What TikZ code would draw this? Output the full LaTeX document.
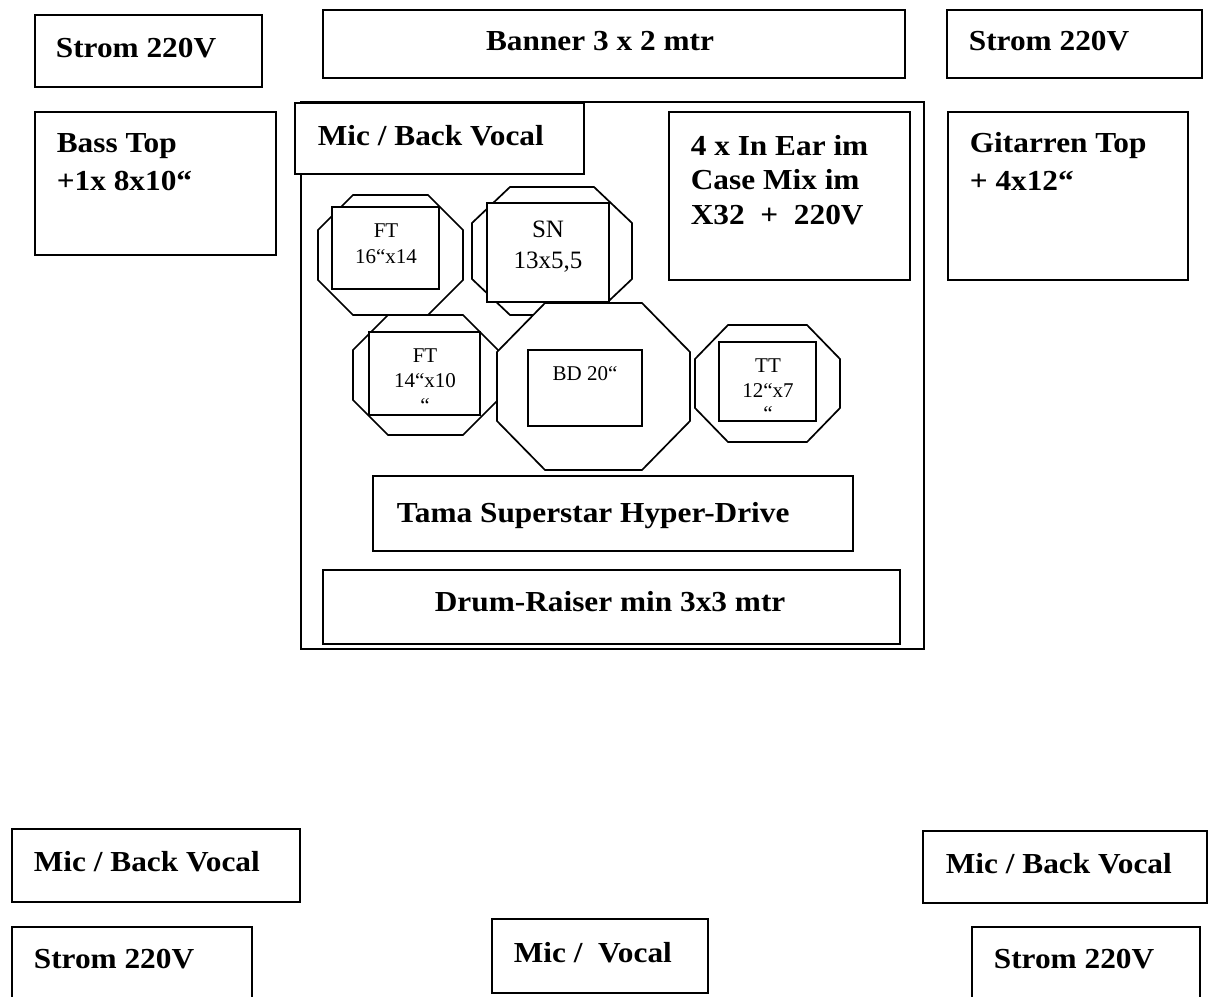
\documentclass[tikz,border=0pt]{standalone}
\usepackage{fontspec}
\setmainfont{Liberation Serif}
\newfontfamily\bigfont[FakeStretch=1.08]{Liberation Serif}
\begin{document}
\begin{tikzpicture}[x=1pt,y=-1pt,line width=1.7pt,line join=miter,
  box/.style={draw,fill=white,inner sep=0pt},
  big/.style={font=\bigfont\bfseries\fontsize{29}{36}\selectfont,inner sep=0pt,anchor=base west},
  bigc/.style={big,anchor=base},
  small/.style={font=\fontsize{21}{25}\selectfont,inner sep=0pt,anchor=base},
  mid/.style={font=\fontsize{25}{30}\selectfont,inner sep=0pt,anchor=base},
  drum/.style={draw,fill=white}]
\useasboundingbox (0,0) rectangle (1209,996);
\clip (0,0) rectangle (1209,996);
% helper for boxes from corners
\def\bx#1#2#3#4#5{\node[box,minimum width={(#4)-(#2)},minimum height={(#5)-(#3)}] (#1) at ({((#2)+(#4))/2},{((#3)+(#5))/2}) {};}
\def\oct#1#2#3#4#5#6#7{\draw[drum] ({#2+#6},#3) coordinate (#1) -- ({#4-#6},#3) -- (#4,{#3+#7}) -- (#4,{#5-#7}) -- ({#4-#6},#5) -- ({#2+#6},#5) -- (#2,{#5-#7}) -- (#2,{#3+#7}) -- cycle;}
% top row
\bx{stromTL}{35}{15}{262}{87}
\node[big] (tStromTL) at (55,57) {Strom 220V};
\bx{banner}{323}{10}{905}{78}
\node[bigc] (tBanner) at (600,50) {Banner 3 x 2 mtr};
\bx{stromTR}{947}{10}{1202}{78}
\node[big] (tStromTR) at (968,50) {Strom 220V};
% side boxes
\bx{bass}{35}{112}{276}{255}
\node[big] (tBass1) at (56,152) {Bass Top};
\node[big] (tBass2) at (56,190) {+1x 8x10“};
\bx{git}{948}{112}{1188}{280}
\node[big] (tGit1) at (969,152) {Gitarren Top};
\node[big] (tGit2) at (969,190) {+ 4x12“};
% main drum area
\draw (301,102) rectangle (924,649);
\coordinate (mainTL) at (301,102);
\bx{micTop}{295}{103}{584}{174}
\node[big] (tMicTop) at (317,145) {Mic / Back Vocal};
\bx{inear}{669}{112}{910}{280}
\node[big] (tIn1) at (690,155) {4 x In Ear im};
\node[big] (tIn2) at (690,189) {Case Mix im};
\node[big] (tIn3) at (690,224) {X32 \ + \ 220V};
% drums
\oct{ft1}{318}{195}{463}{315}{35}{35}
\bx{ft1r}{332}{207}{439}{289}
\node[small] (tFt1a) at (386,237) {FT};
\node[small] (tFt1b) at (386,263) {16“x14};
\oct{sn}{472}{187}{632}{315}{38}{36}
\bx{snr}{487}{203}{609}{302}
\node[mid] (tSn1) at (548,237) {SN};
\node[mid] (tSn2) at (548,268) {13x5,5};
\oct{ft2}{353}{315}{498}{435}{35}{35}
\bx{ft2r}{369}{332}{480}{415}
\node[small] (tFt2a) at (425,362) {FT};
\node[small] (tFt2b) at (425,387) {14“x10};
\node[small] (tFt2c) at (425,412) {“};
\oct{bd}{497}{303}{690}{470}{48}{49}
\bx{bdr}{528}{350}{642}{426}
\node[small] (tBd) at (585,380) {BD 20“};
\oct{tt}{695}{325}{840}{442}{33}{34}
\bx{ttr}{719}{342}{816}{421}
\node[small] (tTt1) at (768,372) {TT};
\node[small] (tTt2) at (768,397) {12“x7};
\node[small] (tTt3) at (768,420) {“};
% hardware and raiser
\bx{tama}{373}{476}{853}{551}
\node[big] (tTama) at (396,522) {Tama Superstar Hyper-Drive};
\bx{raiser}{323}{570}{900}{644}
\node[big] (tRaiser) at (434,611) {Drum-Raiser min 3x3 mtr};
% bottom
\bx{micBL}{12}{829}{300}{902}
\node[big] (tMicBL) at (33,871) {Mic / Back Vocal};
\bx{stromBL}{12}{927}{252}{1010}
\node[big] (tStromBL) at (33,968) {Strom 220V};
\bx{micV}{492}{919}{708}{993}
\node[big] (tMicV) at (513,962) {Mic / \ Vocal};
\bx{micBR}{923}{831}{1207}{903}
\node[big] (tMicBR) at (945,873) {Mic / Back Vocal};
\bx{stromBR}{972}{927}{1200}{1010}
\node[big] (tStromBR) at (993,968) {Strom 220V};
\end{tikzpicture}
\end{document}
